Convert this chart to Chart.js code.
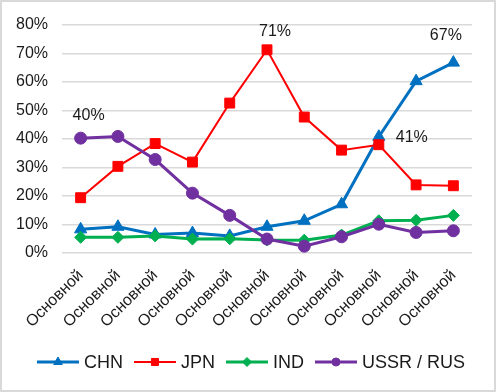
<!DOCTYPE html>
<html><head><meta charset="utf-8">
<script src="https://cdn.jsdelivr.net/npm/chart.js@4"></script>
<style>html,body{margin:0;padding:0;background:#fff}#wrap{width:496px;height:392px;position:relative}</style>
</head><body><div id="wrap"><canvas id="c" width="496" height="392"></canvas></div>
<script>
const categories = ['Основной','Основной','Основной','Основной','Основной','Основной','Основной','Основной','Основной','Основной','Основной'];
const yTickValues = [0, 10, 20, 30, 40, 50, 60, 70, 80];
const seriesNames = ['CHN', 'JPN', 'IND', 'USSR / RUS'];
const chn  = [8.3, 9.2, 6.5, 7.0, 6.0, 9.2, 11.3, 17.1, 40.8, 60.3, 66.8];
const jpn  = [19.4, 30.4, 38.4, 31.9, 52.6, 71.3, 47.7, 36.1, 38.0, 23.9, 23.6];
const ind  = [5.5, 5.5, 6.0, 4.9, 5.0, 4.6, 4.5, 6.3, 11.3, 11.5, 13.2];
const ussr = [40.3, 40.9, 32.8, 21.0, 13.2, 4.9, 2.4, 5.7, 10.1, 7.2, 7.8];
// which points carry a value label: [seriesIndex, categoryIndex]
const labelledPoints = [[3, 0], [1, 5], [0, 10], [0, 8]];

const FONT = "'Liberation Sans', Arial, sans-serif";
const TEXT = '#1a1a1a';
const colors = ['#0070C0', '#FF0000', '#00B050', '#7030A0'];
const styles = ['triangle', 'rect', 'rectRot', 'circle'];
const radii = [7, 7, 6, 6];
const legendRadii = [5, 5, 4.5, 4];
const widths = [3, 2, 3, 3];
const labelOffsets = [[8, -23], [8, -18], [-7.5, -27], [33, 1]];

const values = [chn, jpn, ind, ussr];
const datasets = values.map((d, i) => ({
  label: seriesNames[i],
  data: d,
  borderColor: colors[i],
  backgroundColor: colors[i],
  borderWidth: widths[i],
  pointStyle: styles[i],
  pointRadius: radii[i],
  pointHoverRadius: radii[i],
  pointBorderWidth: 1,
  pointBackgroundColor: colors[i],
  pointBorderColor: colors[i],
  tension: 0,
  fill: false,
  order: 4 - i
}));

const framePlugin = {
  id: 'frame',
  beforeDraw(chart) {
    const ctx = chart.ctx;
    ctx.save();
    ctx.fillStyle = '#fff';
    ctx.fillRect(0, 0, chart.width, chart.height);
    ctx.strokeStyle = '#d9d9d9';
    ctx.lineWidth = 2;
    ctx.strokeRect(1, 1, chart.width - 2, chart.height - 2);
    ctx.restore();
  }
};
const labelPlugin = {
  id: 'vlabels',
  afterDatasetsDraw(chart) {
    const ctx = chart.ctx;
    const xs = chart.scales.x, ys = chart.scales.y;
    ctx.save();
    ctx.font = '16px ' + FONT;
    ctx.fillStyle = TEXT;
    ctx.textAlign = 'center';
    ctx.textBaseline = 'middle';
    labelledPoints.forEach(([s, k], j) => {
      const v = values[s][k];
      const x = xs.getPixelForValue(k) + labelOffsets[j][0];
      const y = ys.getPixelForValue(v) + labelOffsets[j][1];
      ctx.fillText(Math.round(v) + '%', x, y);
    });
    ctx.restore();
  }
};
// legend: line with marker, then text; centred at the bottom
const legendPlugin = {
  id: 'lineLegend',
  afterDraw(chart) {
    const ctx = chart.ctx;
    const lineLen = 42, gapText = 5, gapItem = 11, cy = 362;
    ctx.save();
    ctx.font = '18px ' + FONT;
    const tw = seriesNames.map(n => ctx.measureText(n).width);
    const total = tw.reduce((a, b) => a + b, 0) + seriesNames.length * (lineLen + gapText) + (seriesNames.length - 1) * gapItem;
    let x = chart.width / 2 + 3 - total / 2;
    seriesNames.forEach((n, i) => {
      ctx.strokeStyle = colors[i]; ctx.fillStyle = colors[i];
      ctx.lineWidth = widths[i];
      ctx.beginPath(); ctx.moveTo(x, cy); ctx.lineTo(x + lineLen, cy); ctx.stroke();
      ctx.lineWidth = 1;
      Chart.helpers.drawPoint(ctx, {pointStyle: styles[i], radius: legendRadii[i], rotation: 0, borderWidth: 1}, x + lineLen / 2, cy);
      x += lineLen + gapText;
      ctx.fillStyle = TEXT;
      ctx.textAlign = 'left';
      ctx.textBaseline = 'middle';
      ctx.fillText(n, x, cy + 1);
      x += tw[i] + gapItem;
    });
    ctx.restore();
  }
};

new Chart(document.getElementById('c'), {
  type: 'line',
  data: { labels: categories, datasets },
  options: {
    responsive: false,
    animation: false,
    devicePixelRatio: 1,
    layout: { padding: { top: 25, right: 24, left: 0, bottom: 0 } },
    plugins: {
      tooltip: { enabled: false },
      legend: { display: false }
    },
    scales: {
      y: {
        min: 0, max: 80,
        afterBuildTicks: (s) => { s.ticks = yTickValues.map(v => ({value: v})); },
        afterFit: (s) => { s.width = 62; },
        border: { display: false },
        grid: { color: '#d9d9d9', lineWidth: 1.5, drawTicks: false },
        ticks: { padding: 14, color: TEXT, font: { size: 16, family: FONT }, callback: (v) => v + '%' }
      },
      x: {
        offset: true,
        afterFit: (s) => { s.height = 139; },
        border: { display: false },
        grid: { display: false, drawTicks: false },
        ticks: { minRotation: 45, maxRotation: 45, autoSkip: false, padding: 13, color: TEXT, font: { size: 16, family: FONT } }
      }
    }
  },
  plugins: [framePlugin, labelPlugin, legendPlugin]
});
</script></body></html>
